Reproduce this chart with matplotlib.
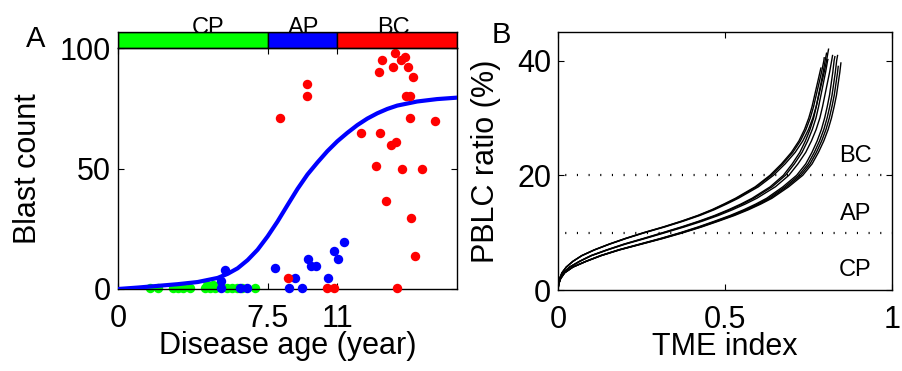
import numpy as np
import matplotlib
matplotlib.use("Agg")
from matplotlib import pyplot as plt

plt.rcParams["font.family"] = ["Liberation Sans", "DejaVu Sans"]

# ---- panel A: blast counts against disease age ----
phase_names = ["CP", "AP", "BC"]
phase_edges = [0, 7.5, 11, 17]
phase_colors = ["#00ff00", "#0000ff", "#ff0000"]

cp_age = [1.61, 2.02, 2.78, 3.03, 3.28, 3.61, 4.37, 4.45, 4.62, 4.78, 4.87, 5.12,
          5.45, 5.71, 5.96, 6.21, 6.87]
cp_blast = [0.5, 0.5, 0.5, 0.5, 0.5, 0.5, 0.5, 1.5, 0.5, 1.5, 0.5, 1.5,
            0.5, 0.5, 0.5, 0.5, 0.5]

ap_age = [5.39, 5.17, 5.15, 6.12, 6.46, 7.88, 8.88, 8.56, 9.21, 9.52, 9.67, 9.93,
          10.52, 10.81, 11.04, 11.31]
ap_blast = [7.7, 3.3, 0.5, 0.5, 0.5, 8.6, 4.4, 0.5, 0.5, 12.6, 9.4, 9.4,
            4.4, 15.6, 12.6, 19.6]

bc_age = [8.10, 9.50, 9.47, 8.50, 10.50, 10.85, 12.19, 12.94, 13.11, 13.25, 13.15,
          13.45, 13.68, 13.95, 13.88, 13.81, 13.98, 14.23, 14.18, 14.40, 14.52,
          14.78, 14.42, 14.65, 14.65, 14.69, 14.87, 15.22, 15.91]
bc_blast = [71.1, 85.2, 80.0, 4.6, 0.5, 0.5, 64.9, 51.0, 90.2, 95.0, 64.9,
            36.6, 59.8, 60.9, 98.1, 92.3, 0.5, 49.8, 95.0, 96.1, 92.3,
            88.0, 80.0, 80.0, 71.0, 29.6, 13.6, 49.8, 69.8]

fit_age = [0, 1, 2, 3, 4, 5, 5.5, 6, 6.5, 7, 7.5, 8, 8.5, 9, 9.5, 10, 10.5, 11,
           11.5, 12, 12.5, 13, 13.5, 14, 15, 16, 17]
fit_blast = [0, 0.6, 1.3, 2.0, 2.9, 4.6, 6.3, 8.6, 12.0, 16.3, 21.8, 28.0, 34.8,
             41.5, 47.5, 52.5, 57.2, 61.3, 64.8, 68.0, 70.7, 72.9, 74.7, 76.1,
             77.8, 78.8, 79.4]

# ---- panel B: PBLC ratio against TME index ----
pblc_levels = [0, 1, 2, 3, 4, 5, 6, 7, 8, 9, 10, 11, 12, 13, 14, 15, 16, 18, 20,
               22, 24, 26, 28, 30, 32, 34, 36, 38, 40, 42]
early_tme = [0, 0.0015, 0.005, 0.012, 0.025, 0.045, 0.072, 0.11, 0.155, 0.205,
             0.26, 0.32, 0.375, 0.425, 0.468, 0.505, 0.54, 0.6, 0.645, 0.68,
             0.71, 0.733, 0.75, 0.763, 0.773, 0.781, 0.789, 0.797, 0.804, 0.81]
mid_tme = [0, 0.0018, 0.0065, 0.016, 0.035, 0.065, 0.1, 0.148, 0.2, 0.26,
           0.318, 0.375, 0.428, 0.476, 0.518, 0.556, 0.59, 0.645, 0.685, 0.712,
           0.735, 0.752, 0.766, 0.777, 0.785, 0.792, 0.799, 0.806, 0.812, 0.818]
late_tme = [0, 0.002, 0.008, 0.02, 0.045, 0.085, 0.13, 0.185, 0.25, 0.315,
            0.375, 0.43, 0.48, 0.528, 0.57, 0.607, 0.64, 0.69, 0.732, 0.76,
            0.779, 0.795, 0.808, 0.818, 0.826, 0.833, 0.838, 0.843, 0.847, 0.851]
# (profile, horizontal stretch, last TME index, last PBLC ratio) for each run
runs = [
    ("early", 0.984, 0.787, 38.7),
    ("early", 0.990, 0.797, 40.5),
    ("early", 1.000, 0.810, 42.0),
    ("mid", 0.985, 0.804, 41.3),
    ("mid", 0.994, 0.808, 40.2),
    ("mid", 1.009, 0.822, 40.9),
    ("late", 0.976, 0.829, 40.7),
    ("late", 0.985, 0.837, 40.9),
    ("late", 1.001, 0.847, 39.6),
    ("late", 0.993, 0.839, 39.0),
]
profiles = {"early": np.array(early_tme), "mid": np.array(mid_tme),
            "late": np.array(late_tme)}
thresholds = [10, 20]
zone_names = ["CP", "AP", "BC"]

W, H = 902, 371
fig = plt.figure(figsize=(W / 100, H / 100), dpi=100)


def box(left, top, right, bottom):
    return [left / W, 1 - bottom / H, (right - left) / W, (bottom - top) / H]


def style(ax):
    ax.tick_params(direction="in", length=4, width=0.8, top=True, right=True,
                   labelsize=22)
    ax.tick_params(axis="x", pad=10.5)
    ax.tick_params(axis="y", pad=5)
    for sp in ax.spines.values():
        sp.set_linewidth(1.0)


# panel A
ax = fig.add_axes(box(118, 48, 457, 289))
ax.plot(cp_age, cp_blast, "o", color=phase_colors[0], ms=6.8, mew=0, clip_on=False, zorder=2)
ax.plot(fit_age, fit_blast, "-", color="#0000ff", lw=3, zorder=3)
ax.plot(ap_age, ap_blast, "o", color=phase_colors[1], ms=6.8, mew=0, clip_on=False, zorder=4)
ax.plot(bc_age, bc_blast, "o", color=phase_colors[2], ms=6.8, mew=0, clip_on=False, zorder=4)
ax.set_xlim(0, 17)
ax.set_ylim(0, 100)
ax.set_xticks([0, 7.5, 11])
ax.set_xticklabels(["0", "7.5", "11"])
ax.set_yticks([0, 50, 100])
style(ax)
ax.set_xlabel("Disease age (year)", fontsize=22, va="top")
ax.xaxis.set_label_coords(0.5, -0.176)
ax.set_ylabel("Blast count", fontsize=22)
ax.yaxis.set_label_coords(-0.221, 0.5)

# phase bar above panel A
bar = fig.add_axes(box(118, 32, 457, 48))
for i in range(3):
    bar.bar(phase_edges[i], 1, width=phase_edges[i + 1] - phase_edges[i], bottom=0,
            align="edge", color=phase_colors[i], edgecolor="black", linewidth=1.0, zorder=2)
bar.set_xlim(0, 17)
bar.set_ylim(0, 1)
bar.set_xticks([])
bar.set_yticks([])
for sp in bar.spines.values():
    sp.set_linewidth(1.0)
label_x = [4.53, 9.30, 13.81]
for name, x in zip(phase_names, label_x):
    bar.text(x, 0.85, name, fontsize=17, ha="center", va="baseline", zorder=0, clip_on=False)

# panel B
bx = fig.add_axes(box(558, 32, 892, 290))
for y in thresholds:
    bx.axhline(y, color="black", lw=1.6, ls=(2, (0.5, 4.75)), zorder=1)
for prof, stretch, x_end, y_end in runs:
    levels = np.array(pblc_levels, dtype=float)
    keep = levels < y_end
    xs = np.append(profiles[prof][keep] * stretch, x_end)
    ys = np.append(levels[keep], y_end)
    bx.plot(xs, ys, color="black", lw=1.0, zorder=2)
for name, y in zip(zone_names, [2.37, 12.26, 22.4]):
    bx.text(0.89, y, name, fontsize=17, ha="center", va="baseline")
bx.set_xlim(0, 1)
bx.set_ylim(0, 45)
bx.set_xticks([0, 0.5, 1])
bx.set_xticklabels(["0", "0.5", "1"])
bx.set_yticks([0, 20, 40])
style(bx)
bx.set_xlabel("TME index", fontsize=22, va="top")
bx.xaxis.set_label_coords(0.5, -0.162)
bx.set_ylabel("PBLC ratio (%)", fontsize=22)
bx.yaxis.set_label_coords(-0.17, 0.5)

fig.text(36 / W, 1 - 46.7 / H, "A", fontsize=21, ha="center", va="baseline")
fig.text(501.7 / W, 1 - 43.3 / H, "B", fontsize=21, ha="center", va="baseline")

fig.savefig("out.png", dpi=100)
